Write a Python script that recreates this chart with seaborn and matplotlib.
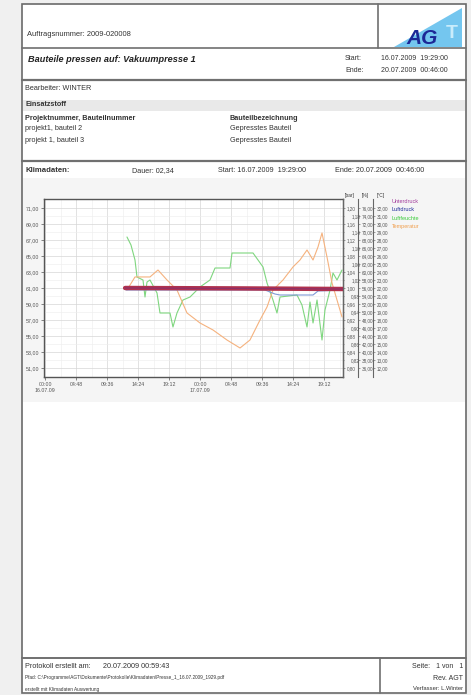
import numpy as np
import pandas as pd
import seaborn as sns
import matplotlib
matplotlib.use("Agg")
import matplotlib.pyplot as plt
from matplotlib.lines import Line2D
from matplotlib.patches import Rectangle, Polygon

# ---------------- data ----------------
# time in hours from 16.07.09 00:00
x_ticks = [0, 4.8, 9.6, 14.4, 19.2, 24.0, 28.8, 33.6, 38.4, 43.2]
x_labels = ["00:00\n16.07.09", "04:48", "09:36", "14:24", "19:12",
            "00:00\n17.07.09", "04:48", "09:36", "14:24", "19:12"]

left_ticks = [71, 69, 67, 65, 63, 61, 59, 57, 55, 53, 51]
bar_major = [1.20, 1.16, 1.12, 1.08, 1.04, 1.00, 0.96, 0.92, 0.88, 0.84, 0.80]
bar_minor = [1.18, 1.14, 1.10, 1.06, 1.02, 0.98, 0.94, 0.90, 0.86, 0.82]
pct_ticks = [76, 74, 72, 70, 68, 66, 64, 62, 60, 58, 56, 54, 52, 50, 48, 46, 44, 42, 40, 38, 36]
degc_ticks = [32, 31, 30, 29, 28, 27, 26, 25, 24, 23, 22, 21, 20, 19, 18, 17, 16, 15, 14, 13, 12]

time_feuchte = [12.69, 13.31, 13.93, 14.24, 15.17, 15.48, 15.79, 16.25, 17.34, 17.80,
                19.35, 19.81, 20.43, 21.36, 22.45, 23.99, 25.54, 26.32, 28.64, 28.95,
                32.20, 33.75, 34.37, 35.29, 35.91, 36.38, 39.01, 39.78, 40.56, 41.02,
                41.49, 42.11, 42.88, 43.34, 44.12, 44.58, 45.20, 45.98]
feuchte = [68.75, 66.75, 63.0, 58.75, 58.0, 53.75, 57.5, 58.0, 54.75, 49.75,
           49.75, 46.25, 49.75, 53.0, 53.75, 56.25, 58.0, 61.0, 61.0, 64.75,
           64.75, 61.25, 57.25, 53.0, 49.75, 53.75, 54.25, 51.75, 46.25, 52.5,
           47.25, 53.0, 43.0, 50.5, 55.5, 59.75, 58.0, 60.5]

time_temp = [12.69, 13.93, 16.25, 17.49, 18.89, 20.43, 21.98, 23.99, 26.01, 28.17,
             30.19, 31.73, 33.28, 34.37, 35.29, 36.84, 38.39, 39.47, 40.56, 41.49,
             42.26, 42.88, 43.65, 44.43, 45.20, 45.98]
temperatur = [21.75, 23.38, 23.38, 24.25, 23.0, 21.75, 18.88, 17.63, 16.75, 15.5,
              14.5, 15.5, 18.0, 19.63, 21.75, 23.0, 24.63, 25.5, 26.75, 25.5,
              27.13, 28.88, 25.88, 22.63, 20.5, 18.38]

time_luftdruck = [12.54, 34.06, 35.60, 36.38, 41.49, 42.26, 46.13]
luftdruck = [0.995, 0.995, 0.985, 0.9825, 0.9825, 0.9925, 0.995]

time_unterdruck = [12.40, 30.0, 46.13]
unterdruck = [1.000, 0.999, 0.9975]

legend_labels = ["Unterdruck", "Luftdruck", "Luftfeuchte", "Temperatur"]
legend_colors = ["#a03a9a", "#1f2a9a", "#3ccc3c", "#f0a050"]

# ---------------- figure ----------------
sns.set_theme(style="white")
plt.rcParams["font.family"] = ["Liberation Sans", "DejaVu Sans"]

W, H = 471, 695
fig = plt.figure(figsize=(W / 100, H / 100), dpi=100, facecolor="#f0f0f0")


def fx(x):
    return x / W


def fy(y):
    return 1 - y / H


def hline(y, x1=22, x2=466, lw=1.2, color="#707070"):
    fig.add_artist(Line2D([fx(x1), fx(x2)], [fy(y), fy(y)], transform=fig.transFigure,
                          color=color, lw=lw, zorder=2))


def vline(x, y1, y2, lw=1.2, color="#707070"):
    fig.add_artist(Line2D([fx(x), fx(x)], [fy(y1), fy(y2)], transform=fig.transFigure,
                          color=color, lw=lw, zorder=2))


def T(x, y, s, size=5.3, **kw):
    kw.setdefault("va", "center")
    kw.setdefault("color", "#333333")
    fig.text(fx(x), fy(y), s, fontsize=size, **kw)


# page
fig.add_artist(Rectangle((fx(22), fy(693)), fx(466) - fx(22), fy(4) - fy(693),
                         transform=fig.transFigure, facecolor="white",
                         edgecolor="#6a6a6a", lw=1.2, zorder=-3))
# chart panel background
fig.add_artist(Rectangle((fx(23), fy(402)), fx(465) - fx(23), fy(178) - fy(402),
                         transform=fig.transFigure, facecolor="#f5f5f5",
                         edgecolor="none", zorder=-2))
# Einsatzstoff band
fig.add_artist(Rectangle((fx(23), fy(111)), fx(465) - fx(23), fy(100) - fy(111),
                         transform=fig.transFigure, facecolor="#e9e9e9",
                         edgecolor="none", zorder=-2))

hline(48)
vline(378, 4, 48)
hline(80, lw=1.6)
hline(161, lw=1.6)
hline(658, lw=1.4)
vline(380, 658, 693)

# logo
fig.add_artist(Polygon([(fx(394), fy(47)), (fx(462), fy(8)), (fx(462), fy(47))],
                       closed=True, transform=fig.transFigure, facecolor="#74c6ef",
                       edgecolor="none", zorder=1))
T(422, 38, "AG", size=15, color="#1c2796", fontweight="bold", fontstyle="italic",
  ha="center")
T(452, 33, "T", size=14, color="#c9ecfb", fontweight="bold", ha="center")

# header texts
T(27, 35, "Auftragsnummer: 2009-020008", size=5.4)
T(28, 60, "Bauteile pressen auf: Vakuumpresse 1", size=6.6, fontweight="bold",
  fontstyle="italic", color="#222222")
T(345, 58, "Start:", size=5.0)
T(345, 70, "Ende:", size=5.0)
T(381, 58, "16.07.2009  19:29:00", size=5.0)
T(381, 70, "20.07.2009  00:46:00", size=5.0)

T(25, 89, "Bearbeiter: WINTER", size=5.2)
T(25, 105, "Einsatzstoff", size=5.2, fontweight="bold")
T(25, 118, "Projektnummer, Bauteilnummer", size=5.2, fontweight="bold")
T(25, 129, "projekt1, bauteil 2", size=5.2)
T(25, 140, "projekt 1, bauteil 3", size=5.2)
T(230, 118, "Bauteilbezeichnung", size=5.2, fontweight="bold")
T(230, 129, "Gepresstes Bauteil", size=5.2)
T(230, 140, "Gepresstes Bauteil", size=5.2)

T(25, 171, "Klimadaten:", size=5.6, fontweight="bold")
T(132, 171, "Dauer: 02,34", size=5.2)
T(218, 171, "Start: 16.07.2009  19:29:00", size=5.2)
T(335, 171, "Ende: 20.07.2009  00:46:00", size=5.2)

# footer
T(25, 666, "Protokoll erstellt am:", size=5.2)
T(103, 666, "20.07.2009 00:59:43", size=5.2)
T(25, 677, r"Pfad: C:\Programme\AGT\Dokumente\Protokolle\Klimadaten\Presse_1_16.07.2009_1929.pdf",
  size=3.4)
T(25, 689, "erstellt mit Klimadaten Auswertung", size=3.4)
T(463, 667, "Seite:   1 von   1", size=5.0, ha="right")
T(463, 678, "Rev. AGT", size=5.0, ha="right")
T(463, 689, "Verfasser: L.Winter", size=4.2, ha="right")

# ---------------- chart ----------------
x0, x1, ytop, ybot = 44, 343, 199, 377
ax = fig.add_axes([fx(x0), fy(ybot), (x1 - x0) / W, (ybot - ytop) / H])
ax.set_facecolor("white")
ax.set_xlim(-0.155, 46.13)
ax.set_ylim(49.875, 72.125)
ax.set_yticks(left_ticks)
ax.set_yticklabels([f"{v:.2f}".replace(".", ",") for v in left_ticks])
ax.set_yticks([v + 1 for v in left_ticks[1:]], minor=True)
ax.set_xticks(x_ticks)
ax.set_xticklabels(x_labels)
ax.set_xticks([v + 2.4 for v in x_ticks], minor=True)
ax.tick_params(which="major", labelsize=3.8, length=2, width=0.5, pad=1.5,
               colors="#555555", left=True, bottom=True)
ax.tick_params(which="minor", length=0)
ax.grid(which="major", color="#d6d6d6", lw=0.5)
ax.grid(which="minor", color="#ededed", lw=0.4)
for s in ax.spines.values():
    s.set_color("#555555")
    s.set_linewidth(1.0)


def make_twin(pos, ylim, ticks, fmt):
    t = ax.twinx()
    t.patch.set_visible(False)
    for side in ("left", "top", "bottom"):
        t.spines[side].set_visible(False)
    t.spines["right"].set_position(("axes", pos))
    t.spines["right"].set_color("#666666")
    t.spines["right"].set_linewidth(0.8)
    t.set_ylim(*ylim)
    t.set_yticks(ticks)
    t.set_yticklabels([fmt(v) for v in ticks])
    t.tick_params(axis="y", labelsize=3.3, length=1.5, width=0.4, pad=1,
                  colors="#555555")
    t.grid(False)
    return t


ax_p = make_twin(1 + 15 / 299, (33.75, 78.25), pct_ticks,
                 lambda v: f"{v:.2f}".replace(".", ","))
ax_t = make_twin(1 + 30 / 299, (10.875, 33.125), degc_ticks,
                 lambda v: f"{v:.2f}".replace(".", ","))
ax_b = make_twin(1.0, (0.7775, 1.2225), bar_major,
                 lambda v: f"{v:.2f}".replace(".", ","))
ax_b.set_yticks(bar_minor, minor=True)
ax_b.set_yticklabels([f"{v:.2f}".replace(".", ",") for v in bar_minor], minor=True)
ax_b.tick_params(axis="y", which="minor", labelsize=3.3, length=1, width=0.4,
                 pad=5, colors="#555555")

sns.lineplot(x=time_feuchte, y=feuchte, ax=ax_p, color="#7fd67f", lw=0.8,
             estimator=None, sort=False)
sns.lineplot(x=time_temp, y=temperatur, ax=ax_t, color="#f5b27e", lw=0.8,
             estimator=None, sort=False)
sns.lineplot(x=time_luftdruck, y=luftdruck, ax=ax_b, color="#7f9ad6", lw=0.8,
             estimator=None, sort=False)
sns.lineplot(x=time_unterdruck, y=unterdruck, ax=ax_b, color="#b0324e", lw=3.2,
             estimator=None, sort=False, solid_capstyle="round")
sns.lineplot(x=time_unterdruck, y=unterdruck, ax=ax_b, color="#8a2f6a", lw=0.8,
             estimator=None, sort=False)

for a in (ax_p, ax_t, ax_b):
    a.set_xlim(-0.155, 46.13)
    a.set_ylabel("")
ax_p.set_ylim(33.75, 78.25)
ax_t.set_ylim(10.875, 33.125)
ax_b.set_ylim(0.7775, 1.2225)

# unit headers
T(350, 195, "[bar]", size=3.5, ha="center")
T(365, 195, "[%]", size=3.5, ha="center")
T(381, 195, "[°C]", size=3.5, ha="center")

handles = [Line2D([], [], color=c) for c in legend_colors]
leg = fig.legend(handles, legend_labels, loc="upper left",
                 bbox_to_anchor=(fx(392), fy(199)), frameon=False,
                 handlelength=0, handletextpad=0, fontsize=4, labelspacing=0.6,
                 borderpad=0, borderaxespad=0)
for txt, c in zip(leg.get_texts(), legend_colors):
    txt.set_color(c)
for h in leg.legend_handles:
    h.set_visible(False)

fig.savefig("out.png", dpi=100, facecolor=fig.get_facecolor())
